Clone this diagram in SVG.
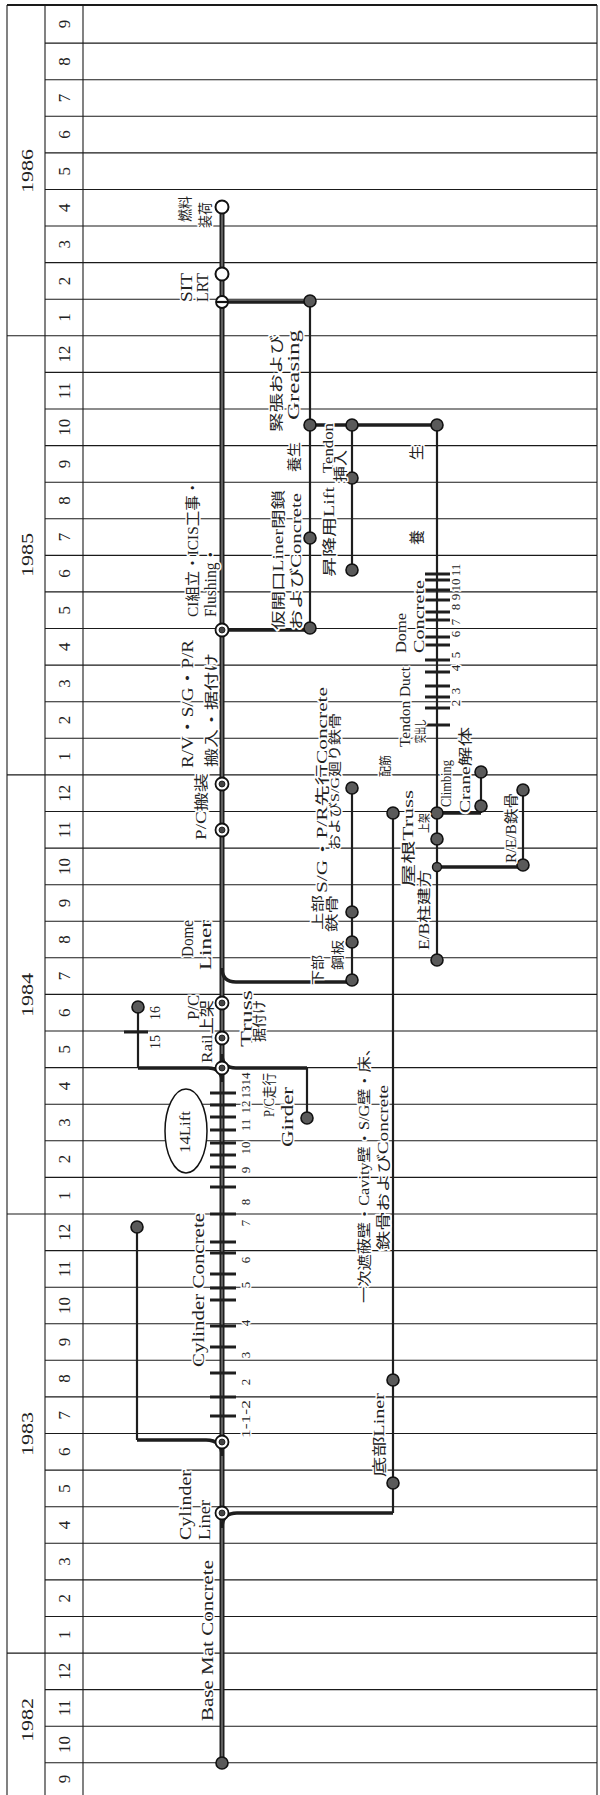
<svg xmlns="http://www.w3.org/2000/svg" xmlns:xlink="http://www.w3.org/1999/xlink" width="600" height="1795" viewBox="0 0 600 1795">
<style>
.g{stroke:#1a1a1a;stroke-width:1.1;fill:none}
.gb{stroke:#1a1a1a;stroke-width:1.8;fill:none}
.ax{font-family:"Liberation Serif","Noto Sans CJK JP",serif;font-size:17px;fill:#222;text-anchor:middle}
.t{font-family:"Liberation Serif","Noto Sans CJK JP",serif;fill:#222;stroke:#fff;stroke-width:3;paint-order:stroke;stroke-linejoin:round}
.s17{font-size:17px}.s16{font-size:16px}.s15{font-size:15px}.s14{font-size:14px}.s13{font-size:13px}.s12{font-size:12px}
.mid{text-anchor:middle}
.main{stroke:#1e1e1e;stroke-width:5;fill:none}
.maini{stroke:#8a8a8a;stroke-width:1.2;fill:none}
.br{stroke:#1e1e1e;stroke-width:3.4;fill:none}
.v{stroke:#1e1e1e;stroke-width:2.2;fill:none}
.tk{stroke:#1e1e1e;stroke-width:3}
</style>
<defs>
<g id="fil"><circle r="6" fill="#5a5a5a" stroke="#111" stroke-width="1.6"/></g>
<g id="fils"><circle r="4.5" fill="#5a5a5a" stroke="#111" stroke-width="1.4"/></g>
<g id="dbl"><circle r="6.5" fill="#fff" stroke="#111" stroke-width="1.8"/><circle r="3" fill="#444" stroke="#111" stroke-width="0.8"/></g>
<g id="opn"><circle r="6.5" fill="#fff" stroke="#111" stroke-width="2"/></g>
<g id="bar"><circle r="6" fill="#fff" stroke="#111" stroke-width="1.8"/><line x1="-6" y1="0" x2="6" y2="0" stroke="#111" stroke-width="2.2"/></g>
</defs>
<rect x="0" y="0" width="600" height="1795" fill="#fff"/>
<g id="grid">
<line class="gb" x1="7" y1="5" x2="597" y2="5"/>
<line class="g" x1="7" y1="5" x2="7" y2="1795"/>
<line class="g" x1="45" y1="5" x2="45" y2="1795"/>
<line class="g" x1="83" y1="5" x2="83" y2="1795"/>
<line class="g" x1="597" y1="5" x2="597" y2="1795"/>
<line class="g" x1="45" y1="43.1" x2="597" y2="43.1"/>
<line class="g" x1="45" y1="79.7" x2="597" y2="79.7"/>
<line class="g" x1="45" y1="116.3" x2="597" y2="116.3"/>
<line class="g" x1="45" y1="152.9" x2="597" y2="152.9"/>
<line class="g" x1="45" y1="189.5" x2="597" y2="189.5"/>
<line class="g" x1="45" y1="226" x2="597" y2="226"/>
<line class="g" x1="45" y1="262.6" x2="597" y2="262.6"/>
<line class="g" x1="45" y1="299.2" x2="597" y2="299.2"/>
<line class="g" x1="7" y1="335.8" x2="597" y2="335.8"/>
<line class="g" x1="45" y1="372.4" x2="597" y2="372.4"/>
<line class="g" x1="45" y1="409" x2="597" y2="409"/>
<line class="g" x1="45" y1="445.6" x2="597" y2="445.6"/>
<line class="g" x1="45" y1="482.2" x2="597" y2="482.2"/>
<line class="g" x1="45" y1="518.8" x2="597" y2="518.8"/>
<line class="g" x1="45" y1="555.4" x2="597" y2="555.4"/>
<line class="g" x1="45" y1="591.9" x2="597" y2="591.9"/>
<line class="g" x1="45" y1="628.5" x2="597" y2="628.5"/>
<line class="g" x1="45" y1="665.1" x2="597" y2="665.1"/>
<line class="g" x1="45" y1="701.7" x2="597" y2="701.7"/>
<line class="g" x1="45" y1="738.3" x2="597" y2="738.3"/>
<line class="g" x1="7" y1="774.9" x2="597" y2="774.9"/>
<line class="g" x1="45" y1="811.5" x2="597" y2="811.5"/>
<line class="g" x1="45" y1="848.1" x2="597" y2="848.1"/>
<line class="g" x1="45" y1="884.7" x2="597" y2="884.7"/>
<line class="g" x1="45" y1="921.3" x2="597" y2="921.3"/>
<line class="g" x1="45" y1="957.8" x2="597" y2="957.8"/>
<line class="g" x1="45" y1="994.4" x2="597" y2="994.4"/>
<line class="g" x1="45" y1="1031" x2="597" y2="1031"/>
<line class="g" x1="45" y1="1067.6" x2="597" y2="1067.6"/>
<line class="g" x1="45" y1="1104.2" x2="597" y2="1104.2"/>
<line class="g" x1="45" y1="1140.8" x2="597" y2="1140.8"/>
<line class="g" x1="45" y1="1177.4" x2="597" y2="1177.4"/>
<line class="g" x1="7" y1="1214" x2="597" y2="1214"/>
<line class="g" x1="45" y1="1250.6" x2="597" y2="1250.6"/>
<line class="g" x1="45" y1="1287.2" x2="597" y2="1287.2"/>
<line class="g" x1="45" y1="1323.7" x2="597" y2="1323.7"/>
<line class="g" x1="45" y1="1360.3" x2="597" y2="1360.3"/>
<line class="g" x1="45" y1="1396.9" x2="597" y2="1396.9"/>
<line class="g" x1="45" y1="1433.5" x2="597" y2="1433.5"/>
<line class="g" x1="45" y1="1470.1" x2="597" y2="1470.1"/>
<line class="g" x1="45" y1="1506.7" x2="597" y2="1506.7"/>
<line class="g" x1="45" y1="1543.3" x2="597" y2="1543.3"/>
<line class="g" x1="45" y1="1579.9" x2="597" y2="1579.9"/>
<line class="g" x1="45" y1="1616.5" x2="597" y2="1616.5"/>
<line class="g" x1="7" y1="1653.1" x2="597" y2="1653.1"/>
<line class="g" x1="45" y1="1689.6" x2="597" y2="1689.6"/>
<line class="g" x1="45" y1="1726.2" x2="597" y2="1726.2"/>
<line class="g" x1="45" y1="1762.8" x2="597" y2="1762.8"/>
</g>
<g id="axis-labels">
<text class="ax" transform="translate(33,171) rotate(-90)" textLength="44" lengthAdjust="spacingAndGlyphs">1986</text>
<text class="ax" transform="translate(33,555) rotate(-90)" textLength="44" lengthAdjust="spacingAndGlyphs">1985</text>
<text class="ax" transform="translate(33,995) rotate(-90)" textLength="44" lengthAdjust="spacingAndGlyphs">1984</text>
<text class="ax" transform="translate(33,1434) rotate(-90)" textLength="44" lengthAdjust="spacingAndGlyphs">1983</text>
<text class="ax" transform="translate(33,1720) rotate(-90)" textLength="44" lengthAdjust="spacingAndGlyphs">1982</text>
<text class="ax" transform="translate(70,24) rotate(-90)">9</text>
<text class="ax" transform="translate(70,61.4) rotate(-90)">8</text>
<text class="ax" transform="translate(70,98) rotate(-90)">7</text>
<text class="ax" transform="translate(70,134.6) rotate(-90)">6</text>
<text class="ax" transform="translate(70,171.2) rotate(-90)">5</text>
<text class="ax" transform="translate(70,207.7) rotate(-90)">4</text>
<text class="ax" transform="translate(70,244.3) rotate(-90)">3</text>
<text class="ax" transform="translate(70,280.9) rotate(-90)">2</text>
<text class="ax" transform="translate(70,317.5) rotate(-90)">1</text>
<text class="ax" transform="translate(70,354.1) rotate(-90)">12</text>
<text class="ax" transform="translate(70,390.7) rotate(-90)">11</text>
<text class="ax" transform="translate(70,427.3) rotate(-90)">10</text>
<text class="ax" transform="translate(70,463.9) rotate(-90)">9</text>
<text class="ax" transform="translate(70,500.5) rotate(-90)">8</text>
<text class="ax" transform="translate(70,537.1) rotate(-90)">7</text>
<text class="ax" transform="translate(70,573.6) rotate(-90)">6</text>
<text class="ax" transform="translate(70,610.2) rotate(-90)">5</text>
<text class="ax" transform="translate(70,646.8) rotate(-90)">4</text>
<text class="ax" transform="translate(70,683.4) rotate(-90)">3</text>
<text class="ax" transform="translate(70,720) rotate(-90)">2</text>
<text class="ax" transform="translate(70,756.6) rotate(-90)">1</text>
<text class="ax" transform="translate(70,793.2) rotate(-90)">12</text>
<text class="ax" transform="translate(70,829.8) rotate(-90)">11</text>
<text class="ax" transform="translate(70,866.4) rotate(-90)">10</text>
<text class="ax" transform="translate(70,903) rotate(-90)">9</text>
<text class="ax" transform="translate(70,939.5) rotate(-90)">8</text>
<text class="ax" transform="translate(70,976.1) rotate(-90)">7</text>
<text class="ax" transform="translate(70,1012.7) rotate(-90)">6</text>
<text class="ax" transform="translate(70,1049.3) rotate(-90)">5</text>
<text class="ax" transform="translate(70,1085.9) rotate(-90)">4</text>
<text class="ax" transform="translate(70,1122.5) rotate(-90)">3</text>
<text class="ax" transform="translate(70,1159.1) rotate(-90)">2</text>
<text class="ax" transform="translate(70,1195.7) rotate(-90)">1</text>
<text class="ax" transform="translate(70,1232.3) rotate(-90)">12</text>
<text class="ax" transform="translate(70,1268.9) rotate(-90)">11</text>
<text class="ax" transform="translate(70,1305.4) rotate(-90)">10</text>
<text class="ax" transform="translate(70,1342) rotate(-90)">9</text>
<text class="ax" transform="translate(70,1378.6) rotate(-90)">8</text>
<text class="ax" transform="translate(70,1415.2) rotate(-90)">7</text>
<text class="ax" transform="translate(70,1451.8) rotate(-90)">6</text>
<text class="ax" transform="translate(70,1488.4) rotate(-90)">5</text>
<text class="ax" transform="translate(70,1525) rotate(-90)">4</text>
<text class="ax" transform="translate(70,1561.6) rotate(-90)">3</text>
<text class="ax" transform="translate(70,1598.2) rotate(-90)">2</text>
<text class="ax" transform="translate(70,1634.8) rotate(-90)">1</text>
<text class="ax" transform="translate(70,1671.3) rotate(-90)">12</text>
<text class="ax" transform="translate(70,1707.9) rotate(-90)">11</text>
<text class="ax" transform="translate(70,1744.5) rotate(-90)">10</text>
<text class="ax" transform="translate(70,1779) rotate(-90)">9</text>
</g>
<g id="connectors">
<line class="main" x1="222" y1="207" x2="222" y2="1763"/>
<line class="maini" x1="222" y1="207" x2="222" y2="1763"/>
<path class="br" d="M222,1528 Q222,1513 237,1513 L393,1513"/>
<path class="v" d="M393,1513 L393,813"/>
<path class="br" d="M222,1456 Q222,1440 206,1440 L137,1440"/>
<path class="v" d="M137,1440 L137,1227"/>
<path class="br" d="M222,1082 Q222,1068 208,1068 L138,1068"/>
<path class="v" d="M138,1068 L138,1007"/>
<path class="br" d="M222,1054 Q222,1068 236,1068 L307,1068"/>
<path class="v" d="M307,1068 L307,1118"/>
<path class="br" d="M222,968 Q222,982 236,982 L352,982"/>
<path class="v" d="M352,982 L352,788"/>
<path class="br" d="M222,630 L310,630"/>
<path class="v" d="M310,630 L310,300"/>
<path class="br" d="M222,302 L310,302"/>
<path class="br" d="M310,425 L437,425"/>
<path class="v" d="M352,425 L352,570"/>
<path class="v" d="M437,425 L437,960"/>
<path class="br" d="M437,813 L481,813"/>
<path class="v" d="M481,813 L481,772"/>
<path class="br" d="M437,867 L523,867"/>
<path class="v" d="M523,867 L523,790"/>
<g id="cyl-ticks">
<line class="tk" x1="210" y1="1416" x2="236" y2="1416"/>
<line class="tk" x1="210" y1="1397" x2="236" y2="1397"/>
<line class="tk" x1="210" y1="1373" x2="236" y2="1373"/>
<line class="tk" x1="210" y1="1347" x2="236" y2="1347"/>
<line class="tk" x1="210" y1="1326" x2="236" y2="1326"/>
<line class="tk" x1="210" y1="1300" x2="236" y2="1300"/>
<line class="tk" x1="210" y1="1288" x2="236" y2="1288"/>
<line class="tk" x1="210" y1="1274" x2="236" y2="1274"/>
<line class="tk" x1="210" y1="1253" x2="236" y2="1253"/>
<line class="tk" x1="210" y1="1242" x2="236" y2="1242"/>
<line class="tk" x1="210" y1="1214" x2="236" y2="1214"/>
<line class="tk" x1="210" y1="1187" x2="236" y2="1187"/>
<line class="tk" x1="210" y1="1167" x2="236" y2="1167"/>
<line class="tk" x1="210" y1="1155" x2="236" y2="1155"/>
<line class="tk" x1="210" y1="1143" x2="236" y2="1143"/>
<line class="tk" x1="210" y1="1130" x2="236" y2="1130"/>
<line class="tk" x1="210" y1="1117" x2="236" y2="1117"/>
<line class="tk" x1="210" y1="1105" x2="236" y2="1105"/>
<line class="tk" x1="210" y1="1093" x2="236" y2="1093"/>
<line class="tk" x1="124" y1="1032" x2="148" y2="1032"/>
</g>
<g id="dome-ticks">
<line class="tk" x1="425" y1="725" x2="450" y2="725"/>
<line class="tk" x1="425" y1="708" x2="450" y2="708"/>
<line class="tk" x1="425" y1="697" x2="450" y2="697"/>
<line class="tk" x1="425" y1="686" x2="450" y2="686"/>
<line class="tk" x1="425" y1="672" x2="450" y2="672"/>
<line class="tk" x1="425" y1="660" x2="450" y2="660"/>
<line class="tk" x1="425" y1="645" x2="450" y2="645"/>
<line class="tk" x1="425" y1="637" x2="450" y2="637"/>
<line class="tk" x1="425" y1="620" x2="450" y2="620"/>
<line class="tk" x1="425" y1="612" x2="450" y2="612"/>
<line class="tk" x1="425" y1="600" x2="450" y2="600"/>
<line class="tk" x1="425" y1="590" x2="450" y2="590"/>
<line class="tk" x1="425" y1="580" x2="450" y2="580"/>
<line class="tk" x1="425" y1="574" x2="450" y2="574"/>
</g>
</g>
<g id="n-basemat">
<use xlink:href="#fil" x="222" y="1763"/>
<text class="t s17" transform="translate(213,1721) rotate(-90)" textLength="161" lengthAdjust="spacingAndGlyphs">Base Mat Concrete</text>
</g>
<g id="n-cylinder-liner">
<use xlink:href="#dbl" x="222" y="1513"/>
<text class="t s17" transform="translate(191,1540) rotate(-90)" textLength="70" lengthAdjust="spacingAndGlyphs">Cylinder</text>
<text class="t s17" transform="translate(210,1540) rotate(-90)" textLength="40" lengthAdjust="spacingAndGlyphs">Liner</text>
</g>
<g id="n-cylinder-concrete">
<use xlink:href="#dbl" x="222" y="1442"/>
<use xlink:href="#fil" x="137" y="1227"/>
<text class="t s17" transform="translate(204,1367) rotate(-90)" textLength="154" lengthAdjust="spacingAndGlyphs">Cylinder Concrete</text>
<text class="t s13" transform="translate(250,1438) rotate(-90)" textLength="38" lengthAdjust="spacingAndGlyphs">1-1-2</text>
<text class="t s13 mid" transform="translate(250,1382) rotate(-90)">2</text>
<text class="t s13 mid" transform="translate(250,1355) rotate(-90)">3</text>
<text class="t s13 mid" transform="translate(250,1323) rotate(-90)">4</text>
<text class="t s13 mid" transform="translate(250,1285) rotate(-90)">5</text>
<text class="t s13 mid" transform="translate(250,1260) rotate(-90)">6</text>
<text class="t s13 mid" transform="translate(250,1223) rotate(-90)">7</text>
<text class="t s13 mid" transform="translate(250,1202) rotate(-90)">8</text>
<text class="t s13 mid" transform="translate(250,1170) rotate(-90)">9</text>
<text class="t s13 mid" transform="translate(250,1148) rotate(-90)">10</text>
<text class="t s13 mid" transform="translate(250,1125) rotate(-90)">11</text>
<text class="t s13 mid" transform="translate(250,1107) rotate(-90)">12</text>
<text class="t s13 mid" transform="translate(250,1092) rotate(-90)">13</text>
<text class="t s13 mid" transform="translate(250,1079) rotate(-90)">14</text>
</g>
<g id="n-14lift">
<ellipse cx="186" cy="1131" rx="21" ry="42" fill="#fff" stroke="#111" stroke-width="1.5"/>
<text class="t s15" transform="translate(190,1153) rotate(-90)" textLength="42" lengthAdjust="spacingAndGlyphs">14Lift</text>
</g>
<g id="n-lift15-16">
<use xlink:href="#fil" x="138" y="1007"/>
<text class="t s14 mid" transform="translate(160,1042) rotate(-90)">15</text>
<text class="t s14 mid" transform="translate(160,1013) rotate(-90)">16</text>
</g>
<g id="n-pc-rail">
<use xlink:href="#dbl" x="222" y="1068"/>
<text class="t s16" transform="translate(199,1020) rotate(-90)" textLength="25" lengthAdjust="spacingAndGlyphs">P/C</text>
<text class="t s15" transform="translate(212,1063) rotate(-90)" textLength="63" lengthAdjust="spacingAndGlyphs">Rail上架</text>
</g>
<g id="n-truss">
<use xlink:href="#dbl" x="222" y="1038"/>
<use xlink:href="#dbl" x="222" y="1003"/>
<text class="t s16" transform="translate(252,1047) rotate(-90)" textLength="57" lengthAdjust="spacingAndGlyphs">Truss</text>
<text class="t s14" transform="translate(264,1042) rotate(-90)" textLength="42" lengthAdjust="spacingAndGlyphs">据付け</text>
</g>
<g id="n-girder">
<use xlink:href="#fil" x="307" y="1118"/>
<text class="t s14" transform="translate(274,1117) rotate(-90)" textLength="44" lengthAdjust="spacingAndGlyphs">P/C走行</text>
<text class="t s16" transform="translate(293,1147) rotate(-90)" textLength="60" lengthAdjust="spacingAndGlyphs">Girder</text>
</g>
<g id="n-dome-liner">
<text class="t s16" transform="translate(193,957) rotate(-90)" textLength="37" lengthAdjust="spacingAndGlyphs">Dome</text>
<text class="t s16" transform="translate(211,970) rotate(-90)" textLength="50" lengthAdjust="spacingAndGlyphs">Liner</text>
</g>
<g id="n-pc-hanso">
<use xlink:href="#dbl" x="222" y="830"/>
<text class="t s14" transform="translate(206,840) rotate(-90)" textLength="67" lengthAdjust="spacingAndGlyphs">P/C搬装</text>
</g>
<g id="n-rv-sg-pr">
<use xlink:href="#dbl" x="222" y="784"/>
<text class="t s16" transform="translate(193,768) rotate(-90)" textLength="128" lengthAdjust="spacingAndGlyphs">R/V・S/G・P/R</text>
<text class="t s14" transform="translate(216,767) rotate(-90)" textLength="114" lengthAdjust="spacingAndGlyphs">搬入・据付け</text>
</g>
<g id="n-ci">
<use xlink:href="#dbl" x="222" y="630"/>
<text class="t s15" transform="translate(198,617) rotate(-90)" textLength="137" lengthAdjust="spacingAndGlyphs">CI組立・ICIS工事・</text>
<text class="t s16" transform="translate(216,617) rotate(-90)" textLength="70" lengthAdjust="spacingAndGlyphs">Flushing・</text>
</g>
<g id="n-sit-lrt">
<use xlink:href="#bar" x="222" y="302"/>
<text class="t s17" transform="translate(192,302) rotate(-90)" textLength="29" lengthAdjust="spacingAndGlyphs">SIT</text>
<text class="t s17" transform="translate(208,302) rotate(-90)" textLength="29" lengthAdjust="spacingAndGlyphs">LRT</text>
</g>
<g id="n-fuel">
<use xlink:href="#opn" x="222" y="274"/>
<use xlink:href="#opn" x="222" y="207"/>
<text class="t s14" transform="translate(190,222) rotate(-90)" textLength="26" lengthAdjust="spacingAndGlyphs">燃料</text>
<text class="t s14" transform="translate(210,228) rotate(-90)" textLength="26" lengthAdjust="spacingAndGlyphs">装荷</text>
</g>
<g id="n-liner-closure">
<use xlink:href="#fil" x="310" y="628"/>
<use xlink:href="#fil" x="310" y="538"/>
<text class="t s14" transform="translate(283,630) rotate(-90)" textLength="140" lengthAdjust="spacingAndGlyphs">仮開口Liner閉鎖</text>
<text class="t s14" transform="translate(301,630) rotate(-90)" textLength="137" lengthAdjust="spacingAndGlyphs">およびConcrete</text>
</g>
<g id="n-curing-1">
<text class="t s14" transform="translate(299,472) rotate(-90)" textLength="30" lengthAdjust="spacingAndGlyphs">養生</text>
</g>
<g id="n-greasing">
<use xlink:href="#fil" x="310" y="425"/>
<use xlink:href="#fil" x="310" y="301"/>
<text class="t s14" transform="translate(281,432) rotate(-90)" textLength="97" lengthAdjust="spacingAndGlyphs">緊張および</text>
<text class="t s16" transform="translate(299,420) rotate(-90)" textLength="90" lengthAdjust="spacingAndGlyphs">Greasing</text>
</g>
<g id="n-tendon-insert">
<use xlink:href="#fil" x="352" y="425"/>
<use xlink:href="#fil" x="352" y="478"/>
<text class="t s15" transform="translate(333,473) rotate(-90)" textLength="50" lengthAdjust="spacingAndGlyphs">Tendon</text>
<text class="t s14" transform="translate(345,482) rotate(-90)" textLength="32" lengthAdjust="spacingAndGlyphs">挿入</text>
</g>
<g id="n-lift-updown">
<use xlink:href="#fil" x="352" y="570"/>
<text class="t s14" transform="translate(334,577) rotate(-90)" textLength="90" lengthAdjust="spacingAndGlyphs">昇降用Lift</text>
</g>
<g id="n-curing-2">
<use xlink:href="#fil" x="437" y="425"/>
<text class="t s15" transform="translate(422,545) rotate(-90)" textLength="100" lengthAdjust="spacing">養　　生</text>
</g>
<g id="n-dome-concrete">
<text class="t s15" transform="translate(406,653) rotate(-90)" textLength="40" lengthAdjust="spacingAndGlyphs">Dome</text>
<text class="t s15" transform="translate(424,653) rotate(-90)" textLength="73" lengthAdjust="spacingAndGlyphs">Concrete</text>
<text class="t s13 mid" transform="translate(460,703) rotate(-90)">2</text>
<text class="t s13 mid" transform="translate(460,691) rotate(-90)">3</text>
<text class="t s13 mid" transform="translate(460,668) rotate(-90)">4</text>
<text class="t s13 mid" transform="translate(460,655) rotate(-90)">5</text>
<text class="t s13 mid" transform="translate(460,634) rotate(-90)">6</text>
<text class="t s13 mid" transform="translate(460,622) rotate(-90)">7</text>
<text class="t s13 mid" transform="translate(460,607) rotate(-90)">8</text>
<text class="t s13 mid" transform="translate(460,597) rotate(-90)">9</text>
<text class="t s13 mid" transform="translate(460,585) rotate(-90)">10</text>
<text class="t s13 mid" transform="translate(460,570) rotate(-90)">11</text>
</g>
<g id="n-tendon-duct">
<text class="t s12" transform="translate(390,777) rotate(-90)" textLength="22" lengthAdjust="spacingAndGlyphs">配筋</text>
<text class="t s15" transform="translate(410,747) rotate(-90)" textLength="80" lengthAdjust="spacingAndGlyphs">Tendon Duct</text>
<text class="t s12" transform="translate(425,743) rotate(-90)" textLength="24" lengthAdjust="spacingAndGlyphs">突出し</text>
</g>
<g id="n-climbing-crane">
<use xlink:href="#fil" x="481" y="806"/>
<use xlink:href="#fil" x="481" y="772"/>
<text class="t s15" transform="translate(451,807) rotate(-90)" textLength="47" lengthAdjust="spacingAndGlyphs">Climbing</text>
<text class="t s14" transform="translate(470,813) rotate(-90)" textLength="86" lengthAdjust="spacingAndGlyphs">Crane解体</text>
</g>
<g id="n-reb">
<use xlink:href="#fil" x="523" y="865"/>
<use xlink:href="#fil" x="523" y="790"/>
<text class="t s14" transform="translate(516,863) rotate(-90)" textLength="70" lengthAdjust="spacingAndGlyphs">R/E/B鉄骨</text>
</g>
<g id="n-roof-truss">
<use xlink:href="#fil" x="437" y="813"/>
<use xlink:href="#fil" x="437" y="839"/>
<text class="t s14" transform="translate(413,887) rotate(-90)" textLength="97" lengthAdjust="spacingAndGlyphs">屋根Truss</text>
<text class="t s12" transform="translate(429,833) rotate(-90)" textLength="20" lengthAdjust="spacingAndGlyphs">上架</text>
</g>
<g id="n-eb-column">
<use xlink:href="#fils" x="437" y="867"/>
<use xlink:href="#fil" x="437" y="960"/>
<text class="t s14" transform="translate(429,950) rotate(-90)" textLength="80" lengthAdjust="spacingAndGlyphs">E/B柱建方</text>
</g>
<g id="n-sg-pr">
<use xlink:href="#fil" x="352" y="788"/>
<text class="t s14" transform="translate(327,893) rotate(-90)" textLength="206" lengthAdjust="spacingAndGlyphs">S/G・P/R先行Concrete</text>
<text class="t s13" transform="translate(339,850) rotate(-90)" textLength="137" lengthAdjust="spacingAndGlyphs">およびS/G廻り鉄骨</text>
</g>
<g id="n-steel">
<use xlink:href="#fil" x="352" y="912"/>
<use xlink:href="#fil" x="352" y="942"/>
<use xlink:href="#fil" x="352" y="980"/>
<text class="t s13" transform="translate(322,985) rotate(-90)" textLength="30" lengthAdjust="spacingAndGlyphs">下部</text>
<text class="t s13" transform="translate(342,970) rotate(-90)" textLength="30" lengthAdjust="spacingAndGlyphs">鋼板</text>
<text class="t s13" transform="translate(322,930) rotate(-90)" textLength="35" lengthAdjust="spacingAndGlyphs">上部</text>
<text class="t s13" transform="translate(336,932) rotate(-90)" textLength="37" lengthAdjust="spacingAndGlyphs">鉄骨</text>
</g>
<g id="n-shield-wall">
<use xlink:href="#fil" x="393" y="813"/>
<text class="t s14" transform="translate(369,1303) rotate(-90)" textLength="263" lengthAdjust="spacingAndGlyphs">一次遮蔽壁・Cavity壁・S/G壁・床、</text>
<text class="t s14" transform="translate(388,1250) rotate(-90)" textLength="165" lengthAdjust="spacingAndGlyphs">鉄骨およびConcrete</text>
</g>
<g id="n-bottom-liner">
<use xlink:href="#fil" x="393" y="1380"/>
<use xlink:href="#fil" x="393" y="1483"/>
<text class="t s14" transform="translate(384,1477) rotate(-90)" textLength="84" lengthAdjust="spacingAndGlyphs">底部Liner</text>
</g>
</svg>
